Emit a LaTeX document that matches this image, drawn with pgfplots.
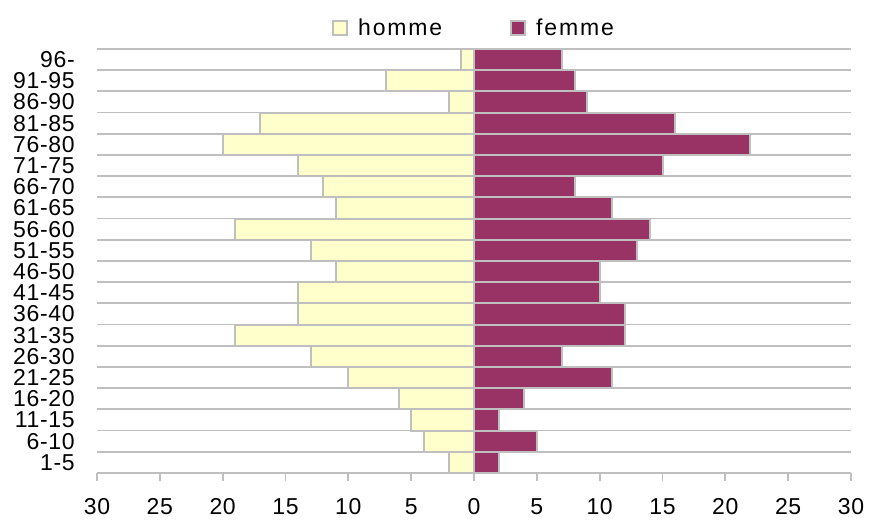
\documentclass[border=0pt]{standalone}
\usepackage{fontspec}
\setmainfont[LetterSpace=3]{Liberation Sans}
\usepackage{pgfplots}
\pgfplotsset{compat=1.18}
\definecolor{homme}{HTML}{FFFFCC}
\definecolor{femme}{HTML}{993366}
\definecolor{bord}{HTML}{BFBFBF}
\begin{document}
\begin{tikzpicture}
\begin{axis}[
  at={(0,0)}, anchor=south west,
  scale only axis, width=754pt, height=424pt,
  xmin=-30, xmax=30, ymin=-0.5, ymax=19.5,
  /pgf/number format/assume math mode=true,
  font=\fontsize{23}{26}\selectfont,
  xtick={-30,-25,...,30},
  xticklabel={\pgfmathparse{abs(\tick)}\pgfmathprintnumber{\pgfmathresult}},
  ytick={0,...,19},
  yticklabels={1-5,6-10,11-15,16-20,21-25,26-30,31-35,36-40,41-45,46-50,51-55,56-60,61-65,66-70,71-75,76-80,81-85,86-90,91-95,96-},
  minor ytick={-0.5,0.5,...,19.5},
  yminorgrids, minor y grid style={draw=bord, line width=1.8pt},
  minor y tick style={draw=none},
  axis x line*=bottom, axis y line*=left,
  x axis line style={draw=bord, line width=1.8pt, -},
  y axis line style={draw=none},
  major y tick style={draw=none},
  x tick style={draw=bord, line width=1.8pt},
  tick align=outside, major tick length=8pt,
  xticklabel style={inner sep=0pt, anchor=north, yshift=-17pt},
  yticklabel style={inner sep=0pt, anchor=east, xshift=-14pt},
  xbar, bar width=1, bar shift=0,
  legend columns=2,
  legend style={draw=none, fill=none, at={(0.5,1)}, anchor=south, yshift=8pt,
    font=\fontsize{23}{26}\selectfont\addfontfeatures{LetterSpace=8},
    /tikz/every odd column/.append style={column sep=8pt},
    /tikz/every even column/.append style={column sep=66pt}},
  legend image code/.code={\draw[#1, line width=2pt] (0pt,-7pt) rectangle (14pt,7pt);},
]
\addplot[fill=homme, draw=bord, line width=2pt] coordinates {
(-2,0) (-4,1) (-5,2) (-6,3) (-10,4) (-13,5) (-19,6) (-14,7) (-14,8) (-11,9)
(-13,10) (-19,11) (-11,12) (-12,13) (-14,14) (-20,15) (-17,16) (-2,17) (-7,18) (-1,19)};
\addlegendentry{homme}
\addplot[fill=femme, draw=bord, line width=2pt] coordinates {
(2,0) (5,1) (2,2) (4,3) (11,4) (7,5) (12,6) (12,7) (10,8) (10,9)
(13,10) (14,11) (11,12) (8,13) (15,14) (22,15) (16,16) (9,17) (8,18) (7,19)};
\addlegendentry{femme}
\end{axis}
\pgfresetboundingbox
\path[use as bounding box] (-97pt,-48pt) rectangle (772pt,473pt);
\end{tikzpicture}
\end{document}
